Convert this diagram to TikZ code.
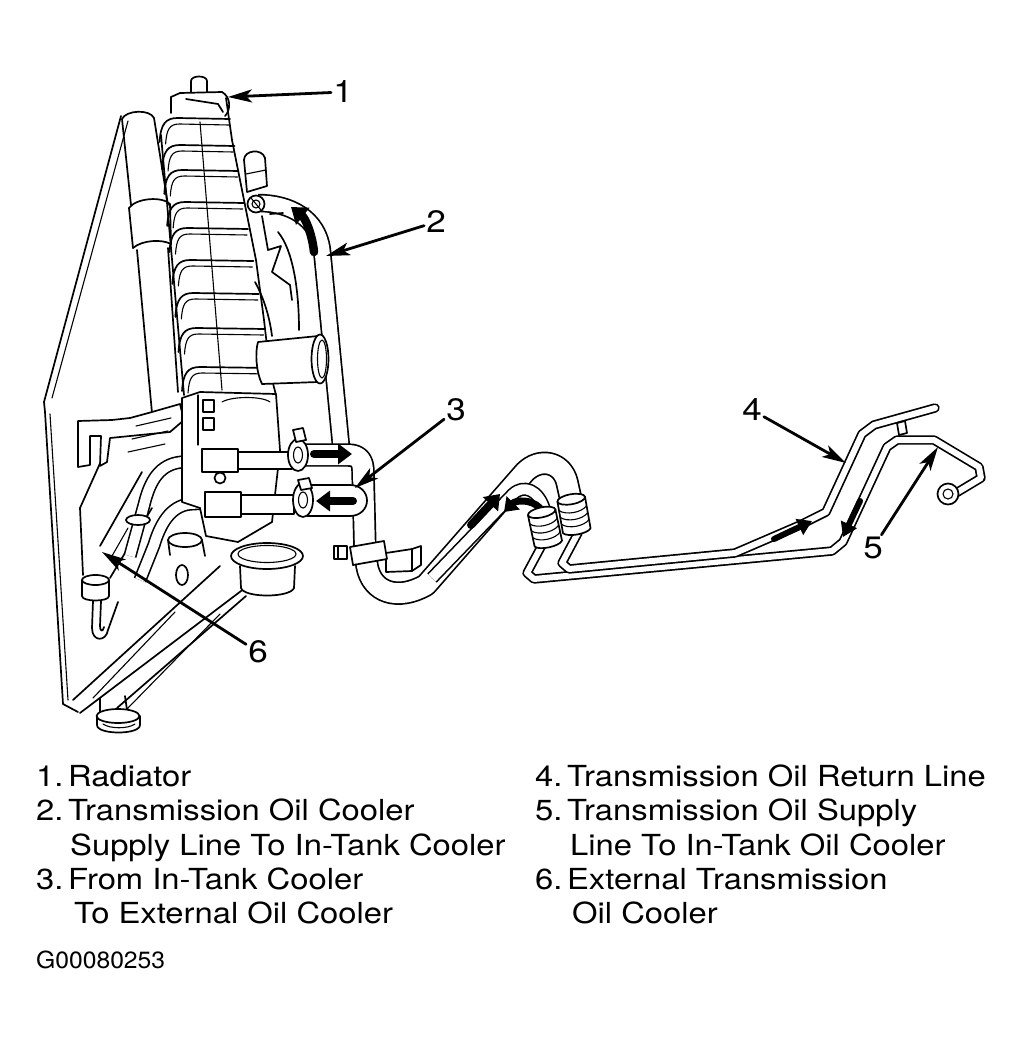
\documentclass[tikz,border=0pt]{standalone}
\usepackage{fontspec}
\setmainfont{TeX Gyre Heros}[FakeStretch=1.13]
\newfontfamily\codefont{TeX Gyre Heros}[FakeStretch=1.05]
\usetikzlibrary{arrows.meta}
\newcommand{\numgap}{\kern-4.5pt\ }
\begin{document}
\begin{tikzpicture}[x=1pt,y=-1pt,line join=round,line cap=round,
  ln/.style={line width=1.7pt},
  thinln/.style={line width=1.1pt},
  wfill/.style={line width=1.7pt,fill=white},
  bigtube/.style={white,line width=20pt,line cap=butt,preaction={draw,black,line width=23.4pt,line cap=butt}},
  midtube/.style={white,line width=15pt,line cap=butt,preaction={draw,black,line width=18.4pt,line cap=butt}},
  smalltube/.style={white,line width=10pt,line cap=butt,preaction={draw,black,line width=13.2pt,line cap=butt}},
  steel/.style={white,line width=6pt,line cap=round,preaction={draw,black,line width=9.4pt,line cap=round}},
  bigarr/.style={line width=8pt,-{Triangle[length=14pt,width=20pt]}},
  smarr/.style={line width=6pt,-{Triangle[length=14pt,width=17pt]}},
  leader/.style={line width=2.8pt,-{Stealth[length=24pt,width=13pt,inset=6pt]}},
  lab/.style={inner sep=2pt,font=\fontsize{31}{31}\selectfont},
  leg/.style={anchor=base west,inner sep=0pt,font=\fontsize{29}{34}\selectfont}]
\useasboundingbox[fill=white] (0,0) rectangle (1031,1044);

% ---------- back plate of radiator ----------
\draw[ln] (121,116) -- (44,402) -- (45,412) -- (63,704) -- (78,712);
\draw[thinln] (128,121) -- (52,398);
\draw[thinln] (50,414) -- (68,700);

% ---------- lower tank (diagonal) ----------
\draw[ln] (73,700) -- (220,566);
\draw[ln] (80,713) -- (245,588);
\draw[thinln] (93,698) -- (175,612);
\draw[ln] (117,708) -- (246,596);
\draw[thinln] (127,709) -- (220,614);
\draw[ln] (182,575) ellipse [x radius=6, y radius=10];
% drain fitting
\draw[ln] (100,698) -- (100,712);
\draw[ln] (125,696) -- (127,710);
\draw[wfill] (97,716) -- (97,725) .. controls (97,735) and (140,735) .. (140,725) -- (140,716);
\draw[wfill] (118,716) ellipse [x radius=21.5, y radius=7];
\draw[thinln] (103,724) .. controls (110,729) and (128,729) .. (135,724);

% ---------- left tall cylinder ----------
\draw[ln] (122,119) .. controls (126,110) and (150,109) .. (154,118);
\draw[ln] (122,119) -- (131,205);
\draw[ln] (154,118) -- (168,205);
\draw[ln] (129,208) .. controls (136,198) and (162,196) .. (170,204) -- (171,244);
\draw[ln] (129,208) -- (133,248);
\draw[ln] (133,248) .. controls (142,240) and (162,239) .. (171,244);
\draw[ln] (137,250) -- (152,413);
\draw[ln] (168,248) -- (178,392);

% ---------- ribbed tank ----------
\draw[ln] (171,97) -- (171,113);
\draw[ln] (161,135) -- (184,395);
\draw[ln] (226,98) -- (232,140) -- (244,200) -- (256,260) -- (264,320) -- (270,372) -- (276,395);
\draw[thinln] (200,122) -- (222,390);
\foreach \yy in {118,145,170,202,228,260,293,328,367}{
  \pgfmathsetmacro\xl{168+(\yy-100)*0.09}
  \pgfmathsetmacro\xr{227+(\yy-100)*0.165}
  \draw[ln] (\xl-10,\yy+24) .. controls (\xl-9,\yy+6) and (\xl-4,\yy) .. (\xl+8,\yy) -- (\xr,\yy+1);
  \draw[thinln] (\xl-4,\yy+26) .. controls (\xl-3,\yy+11) and (\xl,\yy+6) .. (\xl+10,\yy+6) -- (\xr-1,\yy+7);
}
% cap
\draw[wfill] (191,92) -- (191,81) .. controls (191,75) and (207,75) .. (207,81) -- (207,92);
\draw[ln] (171,97) -- (180,93) -- (222,92) .. controls (231,97) and (231,110) .. (225,116);
\draw[ln] (186,99) -- (218,104) -- (223,112);

% ---------- hose 2 (supply to in-tank cooler) ----------
\draw[midtube] (258,203) .. controls (290,203) and (318,218) .. (322,250) -- (341,446);
\draw[wfill] (247,192) -- (244,160) .. controls (244,150) and (262,148) .. (265,158) -- (267,186) -- cycle;
\draw[thinln] (246,174) -- (266,170);
\draw[wfill] (256,204) circle (8.5);
\draw[thinln] (256,204) circle (4);
\draw[thinln] (251,198) -- (261,210);
% bracket behind hose
\draw[ln] (262,216) -- (268,250) -- (281,246) -- (272,272) -- (290,285) -- (292,300);
\draw[ln] (270,214) -- (283,213);
\draw[ln] (278,232) .. controls (293,250) and (299,290) .. (299,330);
\draw[ln] (255,282) .. controls (265,300) and (270,320) .. (272,336);
\draw[line width=8.5pt,-{Triangle[length=15pt,width=21pt]}] (314,252) .. controls (312,233) and (305,218) .. (291,207);
% inlet neck
\draw[wfill] (258,342) -- (318,336) -- (318,382) -- (262,384) .. controls (256,372) and (255,352) .. (258,342);
\draw[wfill] (320,359) ellipse [x radius=8.5, y radius=24.5];
\draw[thinln] (322,359) ellipse [x radius=4.5, y radius=19];

% ---------- external cooler (6) on the left ----------
\draw[ln] (80,508) -- (106,450);
\draw[ln] (80,508) -- (83,575);
\draw[ln] (100,546) -- (142,472);
\draw[ln] (110,578) -- (152,508);
\draw[thinln] (112,556) -- (128,528);
% bracket
\draw[wfill] (78,467) -- (78,421) -- (112,420) -- (130,418) -- (152,412) -- (180,404) -- (184,420) -- (170,432) -- (110,438) -- (107,462) -- (100,466) -- (101,436) -- (90,436) -- (90,465) -- cycle;
\foreach \k in {0,1,2}{
  \draw[thinln] (128+\k*4,452-\k*13) -- (165+\k*3,444-\k*13);
}
% tubes from cooler to block
\draw[smalltube] (205,461) -- (182,462) .. controls (160,464) and (150,480) .. (144,505) -- (130,556);
\draw[smalltube] (208,503) -- (190,504) .. controls (170,506) and (160,525) .. (154,545) -- (140,580);
% cooler fitting
\draw[wfill] (82,580) -- (82,596) .. controls (82,602) and (109,602) .. (109,596) -- (109,580);
\draw[wfill] (95.5,580) ellipse [x radius=13.5, y radius=5];
\draw[ln] (93,601) -- (92,628) .. controls (92,642) and (106,642) .. (108,630) -- (118,602);
\draw[ln] (101,601) -- (100,626) .. controls (100,632) and (103,632) .. (104,627);
\draw[wfill] (138,520) ellipse [x radius=12, y radius=5];

% ---------- outlet block ----------
\draw[wfill] (182,398) -- (200,392) -- (276,394) -- (280,450) -- (272,522) -- (238,542) -- (206,536) -- (200,508) -- (182,502) -- cycle;
\draw[thinln] (198,395) -- (198,445);
\draw[thinln] (203,400) rectangle (214,412);
\draw[thinln] (203,418) rectangle (214,430);
\draw[thinln] (222,402) .. controls (232,396) and (262,396) .. (270,402);
\draw[ln] (220,478) circle (5.5);
\draw[wfill] (185,540) ellipse [x radius=17, y radius=7];
\draw[ln] (168,540) -- (170,555);
\draw[ln] (202,540) -- (205,556);
% pipe fittings
\draw[wfill] (202,452) rectangle (292,469);
\draw[wfill] (202,449) rectangle (238,472);
\draw[wfill] (205,495) rectangle (294,514);
\draw[wfill] (205,492) rectangle (241,517);
% big outlet neck
\draw[wfill] (240,566) -- (241,588) .. controls (244,598) and (290,598) .. (294,588) -- (295,566);
\draw[wfill] (267,556) ellipse [x radius=36, y radius=13];
\draw[thinln] (267,554) ellipse [x radius=29, y radius=8.5];

% ---------- hose 3 region ----------
\draw[bigtube] (306,455) -- (348,455) .. controls (360,455) and (363,462) .. (363,472) -- (365,550);
\draw[wfill] (307,485) -- (350,485) .. controls (360,485) and (367,492) .. (367,500.5) .. controls (367,509) and (360,516) .. (350,516) -- (307,516);
% clamps
\draw[wfill] (298,455) ellipse [x radius=10, y radius=16];
\draw[thinln] (298,455) ellipse [x radius=4.5, y radius=8];
\draw[wfill] (293,430) -- (303,428) -- (306,440) -- (296,442) -- cycle;
\draw[wfill] (303,500) ellipse [x radius=10, y radius=17];
\draw[thinln] (303,500) ellipse [x radius=4.5, y radius=8];
\draw[wfill] (298,480) -- (309,478) -- (312,488) -- (301,490) -- cycle;
\draw[bigarr] (314,454) -- (352,454);
\draw[bigarr] (353,501) -- (316,501);

% clamp and clip near U-bend
\draw[wfill] (386,553) -- (412,549) -- (421,546) -- (421,565) -- (412,571) -- (386,572) -- cycle;
\draw[thinln] (412,549) -- (412,571);
\draw[bigtube] (365,548) -- (367,566) .. controls (372,593) and (398,601) .. (426,585) -- (525,472) .. controls (540,457) and (562,462) .. (567,482) -- (571,500);
\draw[smalltube] (432,578) -- (513,494) .. controls (524,484) and (538,490) .. (544,508);
\draw[wfill] (350,547) -- (384,541) -- (387,559) -- (353,565) -- cycle;
\draw[wfill] (334,546) rectangle (347,559);
\draw[thinln] (338,546) -- (338,559);
\draw[bigarr] (471,525) -- (500,494);
\draw[line width=7pt,-{Triangle[length=13pt,width=18pt]}] (540,508) .. controls (531,499) and (516,500) .. (504,512);

% ---------- steel lines 4 and 5 ----------
\draw[steel] (541,547) -- (527,573) -- (534,579) -- (832,551) -- (843,542) -- (887,447) -- (897,440) -- (934,440) -- (979,467) -- (981,478) -- (956,493);
\draw[steel] (578,533) -- (562,563) -- (569,569) -- (735,553) -- (800,525) -- (826,512) -- (862,434) -- (874,425) -- (935,408);
\draw[wfill] (897,423) -- (905,421) -- (907,433) -- (899,435) -- cycle;
\draw[wfill] (948,494) circle (10.5);
\draw[thinln] (948,494) circle (5);
\draw[smarr] (774,539) -- (812,521);
\draw[smarr] (860,501) -- (843,537);

% ---------- corrugated couplings ----------
\foreach \cx/\cy/\rot in {545/528/12, 574/515/10}{
  \begin{scope}[shift={(\cx,\cy)},rotate=\rot]
    \draw[wfill] (-14,-16) -- (-14,16) .. controls (-10,21) and (10,21) .. (14,16) -- (14,-16);
    \draw[wfill] (0,-16) ellipse [x radius=14, y radius=5];
    \foreach \r in {-7,0,7}{
      \draw[thinln] (-14,\r) .. controls (-8,\r+6) and (8,\r+6) .. (14,\r);
    }
  \end{scope}
}

% ---------- labels and leaders ----------
\node[lab] (l1) at (343,92) {1};
\node[lab] (l2) at (436,222) {2};
\node[lab] (l3) at (456,410) {3};
\node[lab] (l4) at (752,410) {4};
\node[lab] (l5) at (873,548) {5};
\node[lab] (l6) at (258,652) {6};
\coordinate (t1) at (228,97);
\coordinate (t2) at (326,256);
\coordinate (t3) at (355,488);
\coordinate (t4) at (846,463);
\coordinate (t5) at (938,447);
\coordinate (t6) at (102,552);
\draw[leader] (l1) -- (t1);
\draw[leader] (l2) -- (t2);
\draw[leader] (l3) -- (t3);
\draw[leader] (l4) -- (t4);
\draw[leader] (l5) -- (t5);
\draw[leader] (l6) -- (t6);

% ---------- legend ----------
\node[leg] (a1) at (36,786) {1.\numgap Radiator};
\node[leg] (a2) at (36,820) {2.\numgap Transmission Oil Cooler};
\node[leg] (a2b) at (70,855) {Supply Line To In-Tank Cooler};
\node[leg] (a3) at (36,889) {3.\numgap From In-Tank Cooler};
\node[leg] (a3b) at (74,923) {To External Oil Cooler};
\node[leg] (b4) at (535,786) {4.\numgap Transmission Oil Return Line};
\node[leg] (b5) at (535,820) {5.\numgap Transmission Oil Supply};
\node[leg] (b5b) at (570,855) {Line To In-Tank Oil Cooler};
\node[leg] (b6) at (535,889) {6.\numgap External Transmission};
\node[leg] (b6b) at (572,923) {Oil Cooler};
\node[anchor=base west,inner sep=0pt,font=\codefont\fontsize{23.5}{26}\selectfont] (code) at (36,968) {G00080253};
\end{tikzpicture}
\end{document}
